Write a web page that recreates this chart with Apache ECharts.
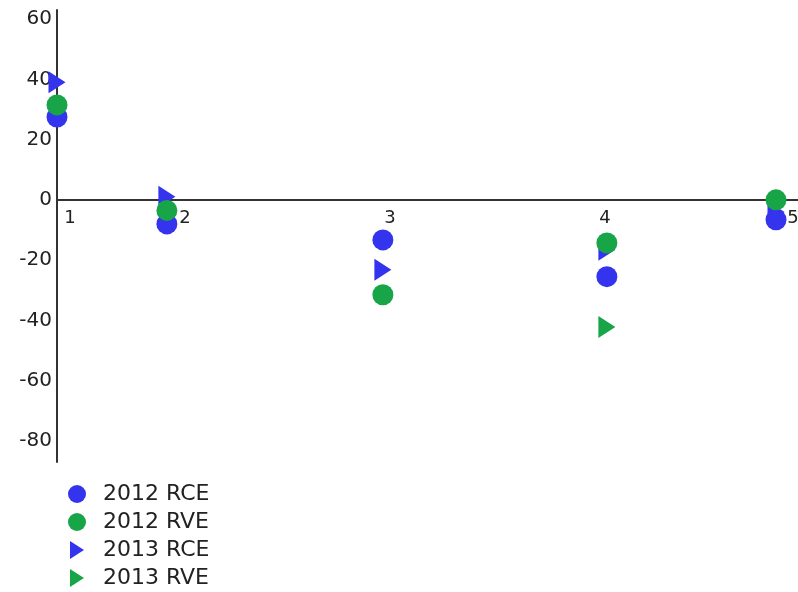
<!DOCTYPE html>
<html>
<head>
<meta charset="utf-8">
<script src="https://cdn.jsdelivr.net/npm/echarts@6/dist/echarts.min.js"></script>
<style>
  html, body { margin: 0; padding: 0; background: #fff; }
  #chart { width: 798px; height: 592px; }
</style>
</head>
<body>
<div id="chart"></div>
<script>
// x categories and where they sit along the axis
const categories = ['1', '2', '3', '4', '5']
const xPos = [1, 1.495, 2.468, 3.477, 4.239]
const labelPos = [1.059, 1.577, 2.5, 3.468, 4.315]

const yTicks = [-80, -60, -40, -20, 0, 20, 40, 60]
const yMin = -87
const yMax = 63

// series values
const rce2012 = [27.5, -8, -13.3, -25.5, -6.6]
const rve2012 = [31.5, -3.5, -31.5, -14.3, 0]
const rce2013 = [39, 1, -23.2, -16.6, -4]
const rve2013 = [null, null, null, -42.2, null]

const BLUE = '#3434ee'
const GREEN = '#17a548'
const FONT = 'DejaVu Sans'
const TRI_RIGHT = 'path://M0,0L14,9L0,18Z'

const gridTop = 10
const gridBottom = 130
const gridHeight = 592 - gridTop - gridBottom

function pairs(vals) {
  return vals.map((v, i) => [xPos[i], v]).filter(p => p[1] !== null)
}

const chart = echarts.init(document.getElementById('chart'))

chart.setOption({
  animation: false,
  grid: { left: 57, right: 0, top: gridTop, bottom: gridBottom, containLabel: false, outerBoundsMode: 'none' },
  legend: {
    orient: 'vertical',
    left: 68,
    top: 483,
    padding: 0,
    itemWidth: 18,
    itemHeight: 18,
    itemGap: 6,
    textStyle: { fontFamily: FONT, fontSize: 22, color: '#222', padding: [0, 0, 0, 12] },
    data: [
      { name: '2012 RCE', icon: 'circle' },
      { name: '2012 RVE', icon: 'circle' },
      { name: '2013 RCE', icon: TRI_RIGHT },
      { name: '2013 RVE', icon: TRI_RIGHT }
    ]
  },
  xAxis: {
    type: 'value',
    min: 1,
    max: 4.338,
    offset: -gridHeight * (0 - yMin) / (yMax - yMin),
    splitLine: { show: false },
    axisTick: { show: false },
    axisLine: { onZero: false, lineStyle: { color: '#333', width: 2 } },
    axisLabel: {
      customValues: labelPos,
      margin: 9,
      fontFamily: FONT,
      fontSize: 18,
      color: '#222',
      formatter: (value) => {
        const i = labelPos.findIndex(p => Math.abs(p - value) < 1e-6)
        return i >= 0 ? categories[i] : ''
      }
    }
  },
  yAxis: {
    type: 'value',
    min: yMin,
    max: yMax,
    splitLine: { show: false },
    axisTick: { show: false },
    axisLine: { show: true, onZero: false, lineStyle: { color: '#333', width: 2 } },
    axisLabel: {
      customValues: yTicks,
      margin: 5,
      fontFamily: FONT,
      fontSize: 20,
      color: '#222'
    }
  },
  series: [
    {
      name: '2012 RCE',
      type: 'scatter',
      symbol: 'circle',
      symbolSize: 21,
      z: 3,
      clip: false,
      itemStyle: { color: BLUE, opacity: 1 },
      data: pairs(rce2012)
    },
    {
      name: '2012 RVE',
      type: 'scatter',
      symbol: 'circle',
      symbolSize: 21,
      z: 3,
      clip: false,
      itemStyle: { color: GREEN, opacity: 1 },
      data: pairs(rve2012)
    },
    {
      name: '2013 RCE',
      type: 'scatter',
      symbol: 'triangle',
      symbolSize: [22, 17],
      symbolRotate: -90,
      z: 2,
      clip: false,
      itemStyle: { color: BLUE, opacity: 1 },
      data: pairs(rce2013)
    },
    {
      name: '2013 RVE',
      type: 'scatter',
      symbol: 'triangle',
      symbolSize: [22, 17],
      symbolRotate: -90,
      z: 2,
      clip: false,
      itemStyle: { color: GREEN, opacity: 1 },
      data: pairs(rve2013)
    }
  ]
})
</script>
</body>
</html>
